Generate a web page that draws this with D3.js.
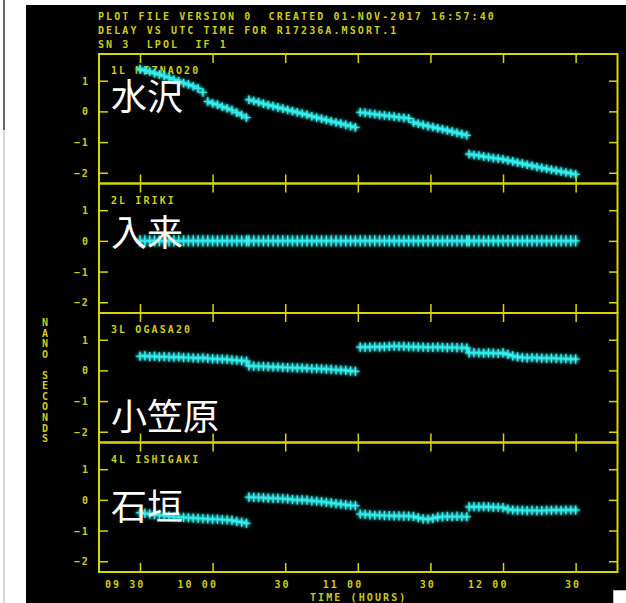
<!DOCTYPE html>
<html><head><meta charset="utf-8">
<script src="https://cdn.jsdelivr.net/npm/d3@7"></script>
<style>
html,body{margin:0;padding:0;background:#fff;}
svg{display:block;}
</style></head><body>
<svg id="c" width="626" height="603"></svg>
<script>
// ---------- data ----------
const titleLines = ["PLOT FILE VERSION 0  CREATED 01-NOV-2017 16:57:40",
                    "DELAY VS UTC TIME FOR R17236A.MSORT.1",
                    "SN 3  LPOL  IF 1"];
const stationLabels = ["1L MIZNAO20", "2L IRIKI", "3L OGASA20", "4L ISHIGAKI"];
const stationNamesJa = ["水沢", "入来", "小笠原", "石垣"];
const yTickValues = [-2, -1, 0, 1];
const xTickValues = [30, 60, 90, 120, 150, 180, 210];          // minutes after 09:00
const xTickLabels = ["09 30", "10 00", "30", "11 00", "30", "12 00", "30"];
const yAxisLabel = "NANO SECONDS";
const xAxisLabel = "TIME (HOURS)";

// scan times (minutes after 09:00), four segments
const timesA = [30,32,34,36,38,40,42,44,46,48,50,52,54,56,58,60,62,64,66,68,70,72,74];
const timesB = [75,77,79,81,83,85,87,89,91,93,95,97,99,101,103,105,107,109,111,113,115,117,119];
const timesC = [121,123,125,127,129,131,133,135,137,139,141,143,145,147,149,151,153,155,157,159,161,163,165];
const timesD = [166,168,170,172,174,176,178,180,182,184,186,188,190,192,194,196,198,200,202,204,206,208,210];

// delays (ns) per station, per segment
const mizusawa = [
  [1.38,1.33,1.30,1.24,1.20,1.15,1.10,1.04,0.98,0.92,0.88,0.82,0.75,0.62,0.32,0.26,0.22,0.15,0.10,0.04,-0.04,-0.12,-0.20],
  [0.38,0.34,0.30,0.25,0.21,0.17,0.13,0.09,0.05,0.01,-0.03,-0.07,-0.11,-0.16,-0.20,-0.24,-0.28,-0.32,-0.36,-0.40,-0.44,-0.48,-0.52],
  [-0.03,-0.05,-0.07,-0.09,-0.12,-0.13,-0.15,-0.17,-0.19,-0.21,-0.23,-0.36,-0.40,-0.44,-0.48,-0.51,-0.55,-0.58,-0.62,-0.66,-0.70,-0.74,-0.78],
  [-1.39,-1.42,-1.44,-1.47,-1.49,-1.52,-1.54,-1.56,-1.60,-1.63,-1.67,-1.70,-1.74,-1.77,-1.81,-1.84,-1.87,-1.90,-1.93,-1.96,-1.99,-2.02,-2.05]
];
const iriki = [
  [0,0,0,0,0,0,0,0,0,0,0,0,0,0,0,0,0,0,0,0,0,0,0],
  [0,0,0,0,0,0,0,0,0,0,0,0,0,0,0,0,0,0,0,0,0,0,0],
  [0,0,0,0,0,0,0,0,0,0,0,0,0,0,0,0,0,0,0,0,0,0,0],
  [0,0,0,0,0,0,0,0,0,0,0,0,0,0,0,0,0,0,0,0,0,0,0]
];
const ogasawara = [
  [0.46,0.47,0.45,0.46,0.44,0.45,0.44,0.43,0.44,0.42,0.42,0.41,0.40,0.41,0.39,0.38,0.37,0.37,0.36,0.34,0.33,0.31,0.30],
  [0.15,0.14,0.13,0.13,0.12,0.11,0.11,0.10,0.09,0.09,0.08,0.08,0.07,0.06,0.06,0.05,0.04,0.03,0.02,0.01,0.00,-0.02,-0.03],
  [0.76,0.75,0.76,0.77,0.76,0.77,0.78,0.79,0.78,0.78,0.77,0.77,0.76,0.76,0.75,0.75,0.76,0.75,0.74,0.75,0.74,0.74,0.73],
  [0.57,0.58,0.57,0.56,0.57,0.56,0.55,0.57,0.52,0.47,0.44,0.42,0.41,0.42,0.41,0.40,0.39,0.40,0.39,0.38,0.38,0.37,0.37]
];
const ishigaki = [
  [-0.42,-0.44,-0.46,-0.48,-0.49,-0.51,-0.53,-0.55,-0.56,-0.57,-0.58,-0.59,-0.60,-0.61,-0.62,-0.63,-0.63,-0.64,-0.65,-0.67,-0.70,-0.73,-0.76],
  [0.09,0.08,0.08,0.07,0.06,0.05,0.05,0.04,0.03,0.01,0.00,0.00,-0.01,-0.03,-0.04,-0.06,-0.08,-0.10,-0.12,-0.14,-0.16,-0.18,-0.19],
  [-0.46,-0.47,-0.49,-0.50,-0.50,-0.51,-0.51,-0.52,-0.52,-0.53,-0.53,-0.54,-0.58,-0.62,-0.63,-0.60,-0.56,-0.55,-0.54,-0.55,-0.54,-0.55,-0.55],
  [-0.23,-0.22,-0.23,-0.22,-0.23,-0.24,-0.24,-0.25,-0.30,-0.33,-0.34,-0.34,-0.35,-0.34,-0.35,-0.35,-0.34,-0.34,-0.33,-0.34,-0.33,-0.33,-0.33]
];
const delayErrors = [0.14, 0.18, 0.15, 0.15];

// ---------- drawing ----------
const YEL = "#d6d600", TXT = "#cccc1e", CYAN = "#34eeee";
const MONO = "'DejaVu Sans Mono', monospace";
const svg = d3.select("#c");
const allTimes = [timesA, timesB, timesC, timesD];
const allStations = [mizusawa, iriki, ogasawara, ishigaki];

const defs = svg.append("defs");
const f = defs.append("filter").attr("id", "glow").attr("x", "-10%").attr("y", "-20%").attr("width", "120%").attr("height", "140%");
f.append("feGaussianBlur").attr("stdDeviation", 1.6).attr("result", "b");
f.append("feComponentTransfer").attr("in", "b").attr("result", "b2")
  .append("feFuncA").attr("type", "linear").attr("slope", 1.6);
const fm = f.append("feMerge");
fm.append("feMergeNode").attr("in", "b2");
fm.append("feMergeNode").attr("in", "SourceGraphic");

// page furniture
svg.append("rect").attr("width", 626).attr("height", 603).attr("fill", "#fff");
svg.append("line").attr("x1", 4).attr("x2", 4).attr("y1", 0).attr("y2", 130).attr("stroke", "#333").attr("stroke-width", 1.5);
svg.append("line").attr("x1", 4).attr("x2", 4).attr("y1", 130).attr("y2", 603).attr("stroke", "#ccc").attr("stroke-width", 1.5);
svg.append("rect").attr("x", 26).attr("y", 5).attr("width", 600).attr("height", 598).attr("fill", "#000");

const left = 99, right = 617.5, top0 = 54, panelH = 129.5;
const x = d3.scaleLinear().domain([13.06, 227.3]).range([left, right]);

// title
svg.append("g").selectAll("text").data(titleLines).join("text")
  .attr("x", 98).attr("y", (d, i) => 19.5 + i * 14.3)
  .attr("fill", TXT).attr("font-family", MONO).attr("font-size", 10).attr("font-weight", "bold")
  .attr("letter-spacing", 2.1).style("white-space", "pre").text(d => d);

allStations.forEach((series, si) => {
  const T = top0 + si * panelH, B = T + panelH;
  const y = d3.scaleLinear().domain([-2.35, 1.87]).range([B, T]);
  const g = svg.append("g");

  // axes (inward ticks)
  const styleAxis = sel => {
    sel.select(".domain").remove();
    sel.selectAll(".tick line").attr("stroke", YEL).attr("stroke-width", 1.5);
  };
  g.append("g").attr("transform", `translate(${left},0)`)
    .call(d3.axisLeft(y).tickValues(yTickValues).tickSize(-9).tickPadding(9).tickFormat(d3.format("d")))
    .call(styleAxis)
    .call(s => s.selectAll(".tick text").attr("fill", TXT).attr("font-family", MONO)
      .attr("font-size", 10).attr("font-weight", "bold").attr("letter-spacing", 2.1).attr("dy", "0.36em"));
  g.append("g").attr("transform", `translate(${right},0)`)
    .call(d3.axisRight(y).tickValues(yTickValues).tickSize(-8.5).tickFormat(""))
    .call(styleAxis);
  g.append("g").attr("transform", `translate(0,${T})`)
    .call(d3.axisBottom(x).tickValues(xTickValues).tickSize(9).tickFormat(""))
    .call(styleAxis);
  g.append("g").attr("transform", `translate(0,${B})`)
    .call(d3.axisTop(x).tickValues(xTickValues).tickSize(9).tickFormat(""))
    .call(styleAxis);

  // frame
  g.append("rect").attr("x", left).attr("y", T).attr("width", right - left).attr("height", panelH)
    .attr("fill", "none").attr("stroke", YEL).attr("stroke-width", 2);

  // station label
  g.append("text").attr("x", 111).attr("y", T + 20.3).attr("fill", TXT)
    .attr("font-family", MONO).attr("font-size", 10).attr("font-weight", "bold")
    .attr("letter-spacing", 2.1).text(stationLabels[si]);

  // points with error bars
  const pts = [];
  series.forEach((seg, k) => seg.forEach((v, j) => pts.push({ t: allTimes[k][j], v })));
  const err = delayErrors[si];
  const pg = g.append("g").attr("stroke", CYAN).attr("filter", "url(#glow)");
  pg.selectAll("line.h").data(pts).join("line").attr("class", "h").attr("stroke-width", 1.1)
    .attr("x1", d => x(d.t) - 4.2).attr("x2", d => x(d.t) + 4.2)
    .attr("y1", d => y(d.v)).attr("y2", d => y(d.v));
  pg.selectAll("line.v").data(pts).join("line").attr("class", "v").attr("stroke-width", 1.4)
    .attr("x1", d => x(d.t)).attr("x2", d => x(d.t))
    .attr("y1", d => y(d.v + err)).attr("y2", d => y(d.v - err));
});

// x tick labels under bottom panel
const xl = svg.append("g").attr("transform", `translate(0,${top0 + 4 * panelH})`)
  .call(d3.axisBottom(x).tickValues(xTickValues).tickSize(0).tickFormat((d, i) => xTickLabels[i]));
xl.select(".domain").remove();
xl.selectAll(".tick text").attr("fill", TXT).attr("font-family", MONO).attr("font-size", 10)
  .attr("font-weight", "bold").attr("letter-spacing", 2.1).style("white-space", "pre")
  .attr("text-anchor", "end").attr("x", 5).attr("y", 16).attr("dy", 0);

// axis titles
svg.append("text").attr("x", 310).attr("y", 601).attr("fill", TXT).attr("font-family", MONO)
  .attr("font-size", 10).attr("font-weight", "bold").attr("letter-spacing", 2.1).style("white-space", "pre")
  .text(xAxisLabel);
svg.append("g").selectAll("text").data(yAxisLabel.split("")).join("text")
  .attr("x", 45).attr("y", (d, i) => 326 + i * 10.55).attr("text-anchor", "middle")
  .attr("fill", TXT).attr("font-family", MONO).attr("font-size", 10).attr("font-weight", "bold")
  .text(d => d);

// Japanese station names
const jaY = [110, 246, 430, 520];
svg.append("g").selectAll("text").data(stationNamesJa).join("text")
  .attr("x", 111).attr("y", (d, i) => jaY[i]).attr("fill", "#fff")
  .attr("font-family", "'Noto Sans CJK JP', sans-serif").attr("font-size", 36)
  .text(d => d);

// bottom-right corner box
svg.append("rect").attr("x", 613.5).attr("y", 590.5).attr("width", 13).attr("height", 13)
  .attr("fill", "#fff").attr("stroke", "#bbb");
</script>
</body></html>
